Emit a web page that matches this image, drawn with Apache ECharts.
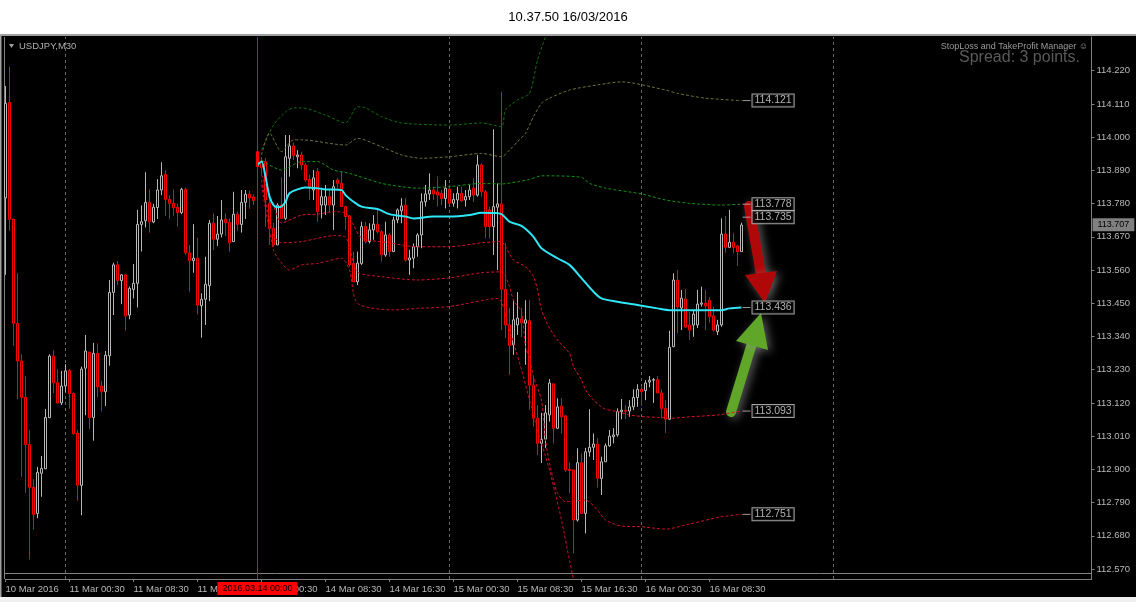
<!DOCTYPE html>
<html><head><meta charset="utf-8">
<script src="https://cdn.jsdelivr.net/npm/echarts@6/dist/echarts.min.js"></script>
<style>html,body{margin:0;padding:0;background:#fff}#c{width:1136px;height:602px}</style>
</head><body><div id="c"></div>
<script>
const titleText = '10.37.50 16/03/2016';
const symbolText = 'USDJPY,M30';
const managerText = 'StopLoss and TakeProfit Manager \u263A';
const spreadText = 'Spread: 3 points.';
const timeLabels = ['10 Mar 2016','11 Mar 00:30','11 Mar 08:30','11 Mar 16:30','14 Mar 00:30','14 Mar 08:30','14 Mar 16:30','15 Mar 00:30','15 Mar 08:30','15 Mar 16:30','16 Mar 00:30','16 Mar 08:30'];
const timeLabelBars = [0,16,32,48,64,80,96,112,128,144,160,176];
const priceTicks = [112.57,112.68,112.79,112.90,113.01,113.12,113.23,113.34,113.45,113.56,113.67,113.78,113.89,114.00,114.11,114.22];
const gridBars = [15,111,159,207];
const markerBar = 63;
const markerLabel = '2016.03.14 00:00';
const currentPrice = 113.707;
const labelBar = 186;
const priceLabels = [114.121,113.778,113.735,113.436,113.093,112.751];

// [open, close, low, high]
const bars = [
[113.799,114.112,113.544,114.169],[114.115,113.728,113.690,114.233],[113.728,113.383,113.309,113.729],[113.383,113.259,113.132,113.550],
[113.259,113.138,112.875,113.281],[113.138,112.982,112.822,113.208],[112.982,112.840,112.602,113.030],[112.840,112.751,112.701,112.867],
[112.754,112.890,112.738,112.908],[112.887,112.903,112.809,112.944],[112.902,113.072,112.901,113.100],[113.071,113.275,113.070,113.281],
[113.275,113.186,113.153,113.294],[113.187,113.120,113.118,113.231],[113.120,113.176,113.113,113.226],[113.176,113.226,113.155,113.248],
[113.228,113.151,113.101,113.232],[113.151,113.018,113.014,113.155],[113.020,112.847,112.796,113.030],[112.847,113.232,112.748,113.240],
[113.235,113.292,113.079,113.345],[113.288,113.071,113.033,113.290],[113.072,113.284,112.995,113.319],[113.284,113.173,113.138,113.317],
[113.176,113.157,113.092,113.193],[113.157,113.278,113.110,113.292],[113.276,113.486,113.243,113.527],[113.486,113.577,113.411,113.584],
[113.577,113.525,113.510,113.590],[113.525,113.544,113.447,113.546],[113.544,113.408,113.359,113.544],[113.411,113.499,113.397,113.505],
[113.496,113.516,113.466,113.580],[113.516,113.711,113.436,113.759],[113.711,113.720,113.621,113.774],[113.723,113.784,113.701,113.884],
[113.784,113.720,113.684,113.827],[113.719,113.768,113.715,113.779],[113.767,113.825,113.729,113.861],[113.825,113.872,113.808,113.917],
[113.877,113.794,113.739,113.891],[113.794,113.781,113.729,113.808],[113.781,113.766,113.740,113.827],[113.768,113.750,113.703,113.779],
[113.750,113.827,113.745,113.832],[113.827,113.617,113.610,113.833],[113.617,113.591,113.488,113.643],[113.591,113.599,113.551,113.712],
[113.599,113.444,113.413,113.667],[113.442,113.463,113.336,113.483],[113.463,113.513,113.378,113.604],[113.508,113.715,113.457,113.726],
[113.715,113.662,113.626,113.748],[113.662,113.679,113.640,113.739],[113.679,113.726,113.668,113.792],[113.728,113.717,113.673,113.748],
[113.718,113.650,113.621,113.731],[113.654,113.745,113.654,113.819],[113.745,113.711,113.690,113.753],[113.711,113.784,113.684,113.825],
[113.784,113.811,113.729,113.825],[113.811,113.799,113.763,113.822],[113.802,113.790,113.775,113.811],[113.952,113.902,113.891,113.957],
[113.921,113.898,113.875,113.934],[113.919,113.792,113.703,113.931],[113.781,113.698,113.643,113.792],[113.698,113.643,113.637,113.716],
[113.643,113.775,113.643,113.781],[113.775,113.731,113.731,113.867],[113.731,113.935,113.726,114.007],[113.930,113.971,113.869,114.007],
[113.971,113.939,113.924,113.981],[113.935,113.941,113.897,113.957],[113.941,113.908,113.891,113.952],[113.908,113.858,113.852,113.915],
[113.860,113.836,113.792,113.875],[113.825,113.865,113.792,113.891],[113.886,113.753,113.720,113.898],[113.775,113.803,113.731,113.825],
[113.775,113.803,113.742,113.842],[113.803,113.775,113.752,113.825],[113.775,113.836,113.693,113.858],[113.858,113.847,113.825,113.864],
[113.847,113.770,113.770,113.886],[113.770,113.737,113.693,113.772],[113.739,113.577,113.571,113.742],[113.582,113.521,113.521,113.621],
[113.521,113.583,113.510,113.621],[113.582,113.704,113.577,113.720],[113.704,113.654,113.648,113.720],[113.654,113.693,113.648,113.715],
[113.693,113.712,113.660,113.742],[113.712,113.687,113.682,113.761],[113.687,113.610,113.588,113.693],[113.610,113.676,113.604,113.720],
[113.676,113.621,113.604,113.682],[113.621,113.726,113.621,113.737],[113.726,113.759,113.715,113.764],[113.756,113.772,113.715,113.798],
[113.775,113.593,113.588,113.798],[113.593,113.600,113.544,113.626],[113.599,113.637,113.566,113.648],[113.637,113.676,113.604,113.682],
[113.676,113.786,113.632,113.814],[113.786,113.812,113.770,113.842],[113.812,113.825,113.792,113.880],[113.825,113.812,113.792,113.836],
[113.819,113.808,113.770,113.869],[113.814,113.797,113.775,113.825],[113.797,113.831,113.764,113.858],[113.828,113.781,113.781,113.842],
[113.781,113.794,113.770,113.814],[113.792,113.814,113.764,113.836],[113.814,113.789,113.786,113.836],[113.792,113.803,113.770,113.825],
[113.803,113.825,113.792,113.842],[113.831,113.808,113.786,113.864],[113.808,113.908,113.803,113.941],[113.908,113.819,113.803,113.913],
[113.819,113.704,113.665,113.825],[113.759,113.704,113.665,113.770],[113.704,113.770,113.610,114.026],[113.768,113.779,113.560,113.847],
[113.779,113.496,113.361,114.150],[113.496,113.378,113.335,113.650],[113.378,113.310,113.212,113.434],[113.312,113.395,113.279,113.460],
[113.378,113.401,113.345,113.487],[113.398,113.385,113.338,113.434],[113.384,113.395,113.246,113.460],[113.392,113.179,113.097,113.460],
[113.179,113.069,113.041,113.207],[113.069,112.986,112.947,113.113],[112.986,112.999,112.921,113.087],[113.000,113.087,112.971,113.113],
[113.080,113.186,113.058,113.199],[113.183,113.036,112.986,113.185],[113.036,113.107,113.033,113.135],[113.110,113.074,113.019,113.136],
[113.077,112.898,112.892,113.080],[112.900,112.896,112.821,112.922],[112.898,112.732,112.622,112.898],[112.732,112.922,112.727,112.970],
[112.922,112.754,112.754,112.953],[112.754,112.958,112.688,112.971],[112.958,112.973,112.942,113.099],[112.973,112.984,112.931,113.019],
[112.984,112.870,112.840,113.003],[112.870,112.925,112.815,112.942],[112.925,112.978,112.925,112.986],[112.978,113.010,112.975,113.030],
[113.008,113.014,112.986,113.036],[113.014,113.091,113.008,113.102],[113.091,113.096,113.066,113.133],[113.095,113.092,113.066,113.113],
[113.093,113.107,113.074,113.129],[113.107,113.138,113.096,113.165],[113.138,113.165,113.107,113.182],[113.165,113.157,113.110,113.176],
[113.161,113.186,113.129,113.195],[113.189,113.195,113.172,113.209],[113.195,113.197,113.120,113.202],[113.197,113.153,113.152,113.209],
[113.153,113.102,113.069,113.165],[113.102,113.066,113.021,113.129],[113.066,113.304,113.063,113.359],[113.306,113.527,113.305,113.549],
[113.527,113.438,113.351,113.560],[113.434,113.467,113.361,113.494],[113.464,113.371,113.368,113.497],[113.378,113.361,113.328,113.421],
[113.378,113.414,113.339,113.428],[113.378,113.447,113.368,113.494],[113.447,113.451,113.439,113.505],[113.450,113.441,113.361,113.494],
[113.460,113.405,113.385,113.471],[113.408,113.361,113.356,113.439],[113.356,113.378,113.345,113.395],[113.378,113.679,113.372,113.731],
[113.679,113.635,113.617,113.739],[113.635,113.652,113.635,113.759],[113.652,113.635,113.616,113.683],[113.640,113.621,113.574,113.643],
[113.621,113.709,113.621,113.717]
];

// [bar index, price]
const maLine = [[63,113.908],[64,113.919],[65,113.869],[66,113.803],[67,113.775],[68,113.768],[69,113.770],[70,113.786],[71,113.814],[73,113.827],[75,113.833],[78,113.831],[80,113.827],[84,113.825],[85,113.808],[87,113.786],[89,113.770],[93,113.762],[96,113.745],[100,113.737],[102,113.731],[107,113.737],[111,113.737],[116,113.742],[119,113.750],[122,113.749],[124,113.745],[126,113.720],[129,113.706],[132,113.670],[134,113.632],[138,113.599],[141,113.577],[144,113.533],[147,113.488],[149,113.466],[153,113.455],[158,113.444],[163,113.433],[166,113.427],[179,113.427],[181,113.433],[184,113.436]];
const upper1 = [[64,113.924],[69,113.891],[74,113.919],[78,113.919],[82,113.891],[86,113.880],[94,113.847],[99,113.836],[103,113.831],[111,113.836],[119,113.847],[124,113.845],[128,113.852],[131,113.860],[134,113.872],[144,113.867],[146,113.847],[150,113.831],[159,113.812],[165,113.792],[171,113.781],[179,113.775],[184,113.778]];
const upper2 = [[64,113.941],[66,114.014],[69,113.952],[72,113.991],[74,113.991],[85,113.974],[88,113.996],[94,113.968],[99,113.941],[104,113.930],[111,113.935],[119,113.946],[124,113.935],[126,113.957],[128,113.985],[130,114.013],[132,114.068],[134,114.112],[136,114.129],[141,114.156],[148,114.173],[154,114.183],[165,114.156],[168,114.145],[175,114.129],[184,114.121]];
const upper3 = [[64,113.957],[67,114.040],[70,114.083],[72,114.097],[74,114.097],[80,114.073],[85,114.047],[88,114.101],[90,114.097],[94,114.068],[99,114.047],[111,114.040],[119,114.047],[124,114.035],[125,114.090],[128,114.123],[131,114.145],[133,114.255],[135,114.332],[137,114.400],[150,114.460],[184,114.463]];
const lower1 = [[64,113.875],[67,113.775],[69,113.716],[74,113.742],[78,113.745],[82,113.753],[85,113.749],[87,113.709],[89,113.666],[96,113.650],[103,113.637],[111,113.637],[119,113.650],[124,113.654],[125,113.637],[127,113.593],[130,113.571],[132,113.538],[133,113.494],[134,113.428],[136,113.368],[138,113.328],[141,113.284],[142,113.240],[144,113.196],[145,113.163],[147,113.129],[149,113.107],[150,113.099],[153,113.091],[156,113.080],[160,113.074],[163,113.072],[166,113.069],[171,113.074],[178,113.080],[184,113.093]];
const lower2 = [[64,113.858],[67,113.676],[69,113.650],[74,113.654],[78,113.665],[82,113.674],[85,113.670],[86,113.637],[88,113.554],[94,113.538],[103,113.527],[111,113.534],[119,113.551],[124,113.554],[126,113.505],[127,113.460],[129,113.422],[130,113.306],[131,113.269],[132,113.207],[134,113.129],[135,112.997],[136,112.921],[137,112.864],[138,112.821],[140,112.793],[145,112.798],[148,112.765],[150,112.732],[154,112.712],[159,112.710],[165,112.702],[171,112.719],[179,112.743],[184,112.751]];
const lower3 = [[64,113.842],[67,113.626],[69,113.583],[71,113.560],[74,113.577],[78,113.582],[84,113.599],[86,113.560],[88,113.450],[97,113.428],[103,113.433],[111,113.439],[123,113.466],[126,113.361],[129,113.229],[133,113.030],[136,112.898],[139,112.732],[141,112.600],[143,112.500],[150,112.400],[184,112.408]];

const FONT = '"Liberation Sans", Arial, "DejaVu Sans", sans-serif';
const AXIS_TEXT = '#b8b8b8';
const chart = echarts.init(document.getElementById('c'), null, {renderer: 'canvas'});

function band(data, color) {
  return {type: 'line', data: data, symbol: 'none', smooth: 0.25, z: 3, silent: true,
    lineStyle: {color: color, width: 1, type: [3, 2]}};
}

const option = {
  backgroundColor: '#000',
  animation: false,
  grid: {left: 5.5, right: 44.5, top: 37, bottom: 23},
  xAxis: {
    type: 'value', min: 0, max: 271.5,
    axisLine: {show: true, onZero: false, lineStyle: {color: '#808080'}},
    axisTick: {show: true, customValues: timeLabelBars, length: 3, lineStyle: {color: '#808080'}},
    axisLabel: {customValues: timeLabelBars, align: 'left', margin: 5,
      color: AXIS_TEXT, fontSize: 9.5, fontFamily: FONT,
      formatter: v => { const k = timeLabelBars.indexOf(Math.round(v)); return k >= 0 ? timeLabels[k] : ''; }},
    splitLine: {show: false}
  },
  yAxis: {
    type: 'value', position: 'right', min: 112.5369, max: 114.3316, scale: true,
    axisLine: {show: true, onZero: false, lineStyle: {color: '#808080'}},
    axisTick: {show: true, customValues: priceTicks, length: 3, lineStyle: {color: '#808080'}},
    axisLabel: {customValues: priceTicks, margin: 5, color: AXIS_TEXT, fontSize: 9.5, fontFamily: FONT,
      formatter: v => v.toFixed(3)},
    splitLine: {show: false}
  },
  series: [
    {
      type: 'line', data: [], z: 1, silent: true,
      markLine: {
        silent: true, symbol: 'none', z: 1, animation: false,
        label: {show: false},
        lineStyle: {color: '#6a6a6a', width: 1, type: [3, 3]},
        data: gridBars.map(b => ({xAxis: b}))
      }
    },
    {
      type: 'candlestick', z: 2, barWidth: 2, silent: true,
      data: bars.map((b, i) => [i, b[0], b[1], b[2], b[3]]),
      itemStyle: {color: '#000', color0: '#000', borderColor: '#b8b8b8', borderColor0: '#ff0000', borderWidth: 1}
    },
    band(upper3, '#0b6e0b'),
    band(upper2, '#66753a'),
    band(upper1, '#139013'),
    band(lower1, '#e0102a'),
    band(lower2, '#d0102a'),
    band(lower3, '#c8102a'),
    {
      type: 'line', data: maLine, symbol: 'none', smooth: 0.3, z: 4, silent: true,
      lineStyle: {color: '#2fe6f6', width: 2}
    },
    {
      type: 'line', data: [], z: 6, silent: true, color: '#ff0000',
      markLine: {
        silent: true, symbol: 'none', z: 6, animation: false,
        itemStyle: {color: '#ff0000'},
        lineStyle: {color: '#ff0000', width: 1, type: 'solid', opacity: 1},
        label: {show: true, position: 'start', distance: 3, formatter: markerLabel,
          color: '#000', backgroundColor: '#ff0000', fontSize: 9, fontFamily: FONT,
          padding: [2, 5, 1, 5], lineHeight: 10},
        data: [{xAxis: markerBar}]
      }
    },
    {
      type: 'line', data: [], z: 6, silent: true,
      markLine: {
        silent: true, symbol: 'none', z: 6, animation: false,
        lineStyle: {color: 'rgba(0,0,0,0)', width: 0},
        label: {show: true, position: 'end', distance: 1, formatter: currentPrice.toFixed(3),
          color: '#000', backgroundColor: '#808080', fontSize: 9, fontFamily: FONT,
          padding: [2, 5, 1, 5], lineHeight: 10, opacity: 1},
        data: [{yAxis: currentPrice}]
      }
    },
    {
      type: 'scatter', z: 5, silent: true,
      data: priceLabels.map(p => [labelBar, p]),
      symbol: 'rect', symbolSize: [8, 1], symbolOffset: [-3, 0],
      itemStyle: {color: '#c0c0c0'},
      label: {show: true, position: 'right', distance: 2, formatter: p => p.value[1].toFixed(3),
        color: '#dcdcdc', fontSize: 10.5, fontFamily: FONT, backgroundColor: '#000',
        borderColor: '#c8c8c8', borderWidth: 1, padding: [1, 2, 0, 2], lineHeight: 11}
    }
  ],
  graphic: [
    {type: 'rect', shape: {x: 0, y: 0, width: 1136, height: 34}, style: {fill: '#fff'}, silent: true},
    {type: 'rect', shape: {x: 0, y: 34, width: 1136, height: 2}, style: {fill: '#a0a0a0'}, silent: true},
    {type: 'rect', shape: {x: 0, y: 36, width: 1.5, height: 566}, style: {fill: '#a0a0a0'}, silent: true},
    {type: 'line', shape: {x1: 4.5, y1: 37, x2: 4.5, y2: 579}, style: {stroke: '#808080', lineWidth: 1}, silent: true},
    {type: 'line', shape: {x1: 4.5, y1: 573.5, x2: 1091.5, y2: 573.5}, style: {stroke: '#808080', lineWidth: 1}, silent: true},
    {type: 'rect', shape: {x: 0, y: 597, width: 1136, height: 5}, style: {fill: '#f0f0f0'}, silent: true},
    {type: 'text', x: 568, y: 17, style: {text: titleText, fill: '#000', font: '13px ' + FONT, textAlign: 'center', textVerticalAlign: 'middle'}, silent: true},
    {type: 'polygon', shape: {points: [[9, 44], [14, 44], [11.5, 48]]}, style: {fill: '#a0a0a0'}, silent: true},
    {type: 'text', x: 19, y: 46, style: {text: symbolText, fill: '#b0b0b0', font: '9.5px ' + FONT, textAlign: 'left', textVerticalAlign: 'middle'}, silent: true},
    {type: 'text', x: 1088, y: 47, style: {text: managerText, fill: '#9a9a9a', font: '9px ' + FONT, textAlign: 'right', textVerticalAlign: 'middle'}, silent: true},
    {type: 'text', x: 1080, y: 58, style: {text: spreadText, fill: '#5a5a5a', font: '16px ' + FONT, textAlign: 'right', textVerticalAlign: 'middle'}, silent: true},
    {type: 'group', silent: true, children: [
      {type: 'line', shape: {x1: 749, y1: 206, x2: 762, y2: 280}, style: {stroke: '#b00808', lineWidth: 10, lineCap: 'round', shadowBlur: 10, shadowColor: 'rgba(150,150,150,0.6)', shadowOffsetX: 3, shadowOffsetY: 2}},
      {type: 'polygon', shape: {points: [[745, 275], [777, 271], [765, 303]]}, style: {fill: '#b00808', shadowBlur: 10, shadowColor: 'rgba(150,150,150,0.6)', shadowOffsetX: 3, shadowOffsetY: 2}},
      {type: 'line', shape: {x1: 731, y1: 412, x2: 753, y2: 340}, style: {stroke: '#5fa629', lineWidth: 10, lineCap: 'round', shadowBlur: 10, shadowColor: 'rgba(150,150,150,0.6)', shadowOffsetX: 3, shadowOffsetY: 2}},
      {type: 'polygon', shape: {points: [[736, 341], [768, 350], [761, 313]]}, style: {fill: '#5fa629', shadowBlur: 10, shadowColor: 'rgba(150,150,150,0.6)', shadowOffsetX: 3, shadowOffsetY: 2}}
    ]}
  ]
};
chart.setOption(option);
</script>
</body></html>
